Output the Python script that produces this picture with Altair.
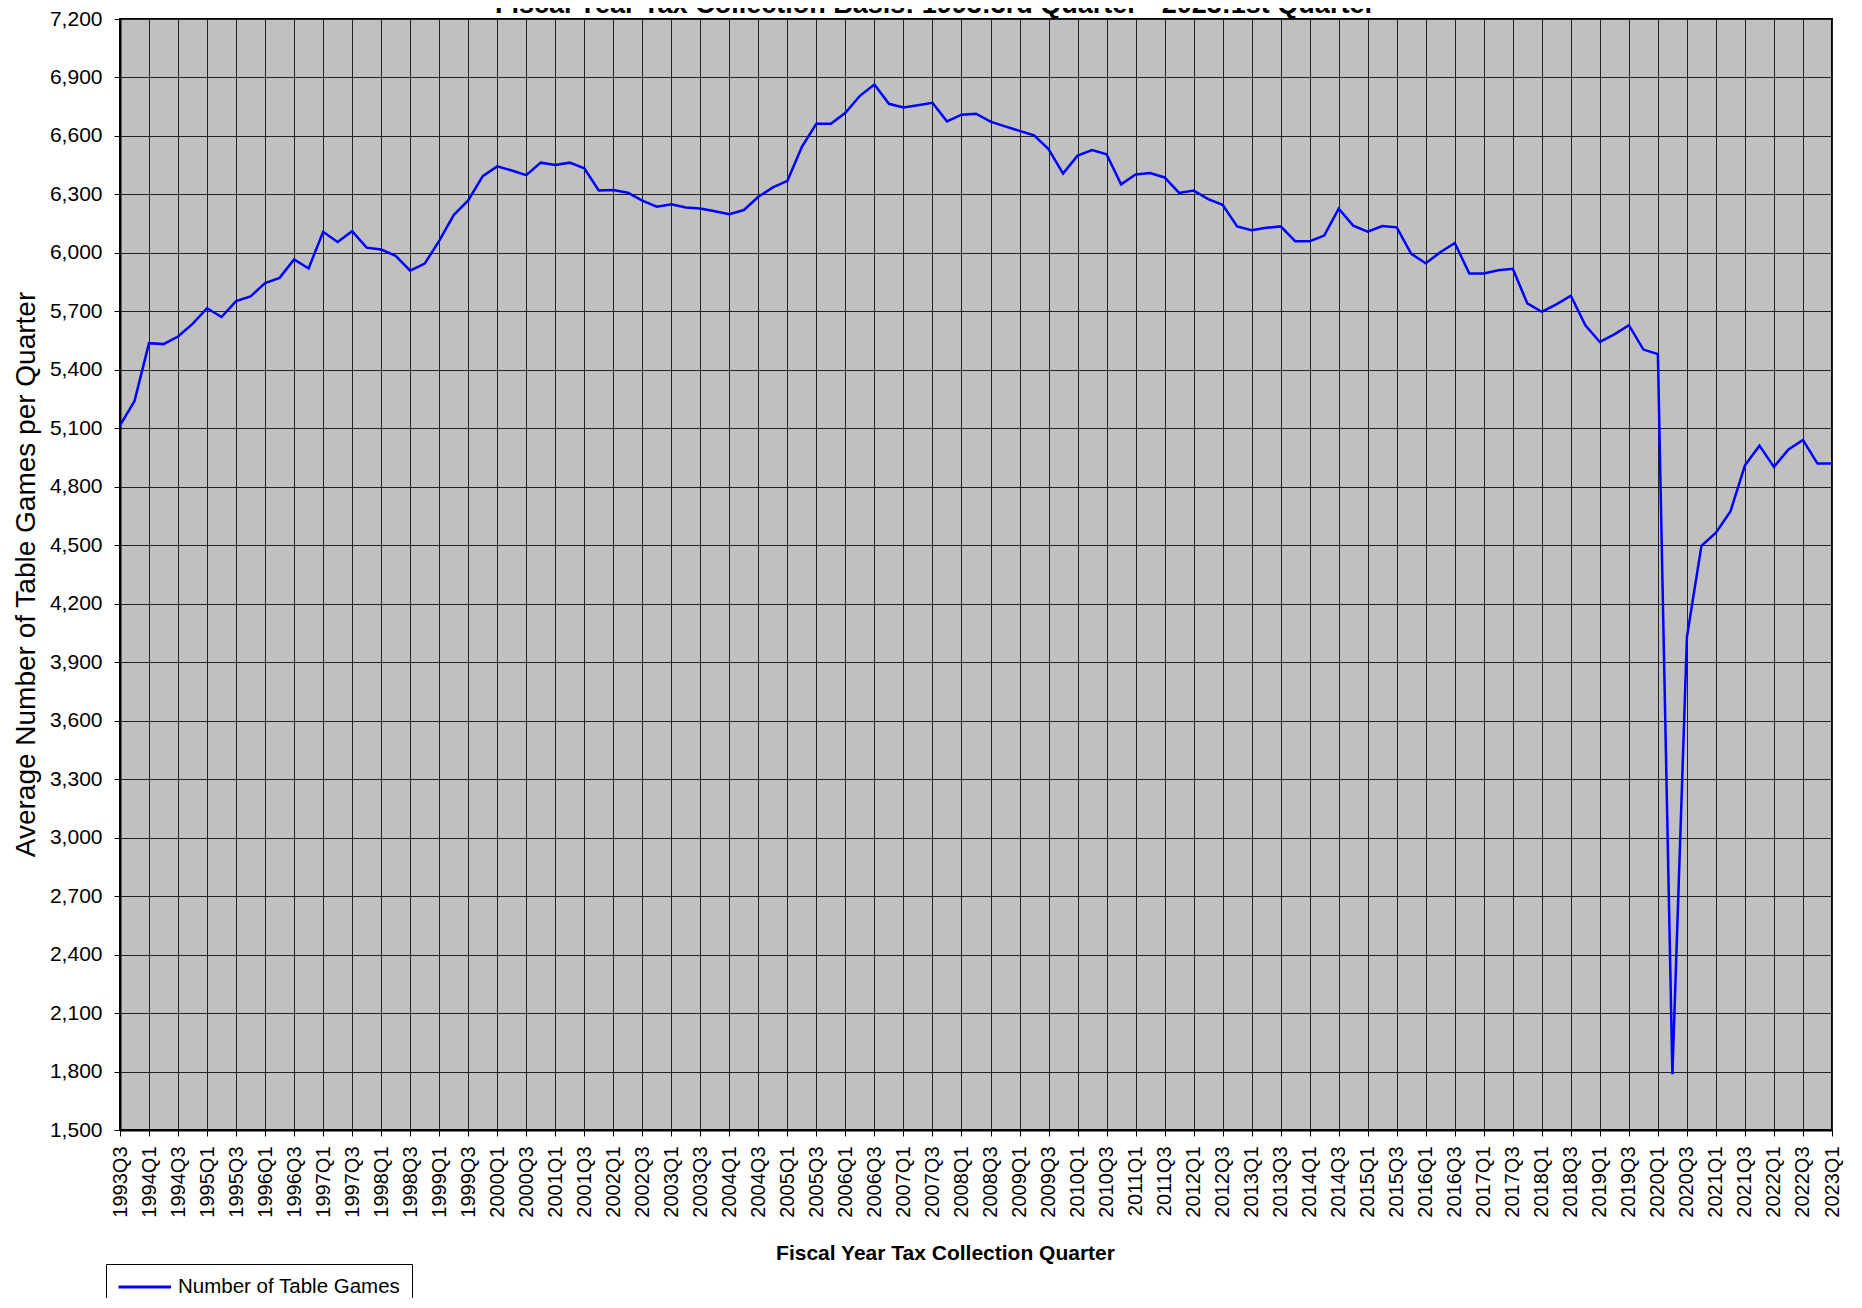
import altair as alt
import pandas as pd

# Quarter labels 1993Q3 ... 2023Q1
quarters = [f"{1993 + (2 + k) // 4}Q{(2 + k) % 4 + 1}" for k in range(119)]
tick_labels = quarters[::2]

games = [
    5115, 5240, 5537, 5532, 5571, 5636, 5716, 5671, 5753, 5777,
    5845, 5872, 5966, 5920, 6108, 6056, 6111, 6027, 6017, 5985,
    5909, 5945, 6062, 6194, 6269, 6394, 6444, 6423, 6399, 6463,
    6451, 6463, 6434, 6320, 6323, 6309, 6268, 6237, 6249, 6233,
    6228, 6214, 6198, 6220, 6288, 6336, 6370, 6544, 6663, 6663,
    6719, 6806, 6864, 6765, 6746, 6758, 6770, 6675, 6709, 6714,
    6673, 6649, 6626, 6603, 6533, 6407, 6499, 6528, 6506, 6352,
    6402, 6410, 6387, 6308, 6320, 6276, 6247, 6136, 6116, 6129,
    6136, 6060, 6060, 6089, 6227, 6140, 6109, 6138, 6131, 5995,
    5947, 6003, 6051, 5894, 5894, 5911, 5918, 5741, 5698, 5736,
    5780, 5629, 5543, 5582, 5629, 5504, 5481, 1786, 4029, 4497,
    4564, 4674, 4910, 5011, 4902, 4992, 5040, 4919, 4919,
]
series_name = "Number of Table Games"
y_ticks = list(range(1500, 7201, 300))
chart_title = "Fiscal Year Tax Collection Basis: 1993:3rd Quarter - 2023:1st Quarter"

df = pd.DataFrame({"quarter": quarters, "games": games, "series": series_name})
title_df = pd.DataFrame({"label": [chart_title]})

FONT = "Liberation Sans"

line = alt.Chart(df).mark_line(strokeWidth=2.5).encode(
    x=alt.X(
        "quarter:O",
        sort=None,
        scale=alt.Scale(type="point", padding=0, domain=quarters),
        axis=alt.Axis(
            values=tick_labels,
            labelAngle=270,
            labelFontSize=20,
            labelPadding=10,
            labelOverlap=False,
            labelColor="black",
            tickSize=6,
            tickColor="black",
            tickWidth=1,
            grid=True,
            gridColor="#222222",
            gridWidth=1,
            domainColor="black",
            domainWidth=2,
            title="Fiscal Year Tax Collection Quarter",
            titleFontSize=21,
            titleFontWeight="bold",
            titleColor="black",
            titleX=825,
            titleY=129,
            titleBaseline="alphabetic",
        ),
    ),
    y=alt.Y(
        "games:Q",
        scale=alt.Scale(domain=[1500, 7200], nice=False, zero=False),
        axis=alt.Axis(
            values=y_ticks,
            format=",.0f",
            labelFontSize=21,
            labelPadding=12,
            labelColor="black",
            tickSize=6,
            tickColor="black",
            grid=True,
            gridColor="#222222",
            gridWidth=1,
            domainColor="black",
            domainWidth=2,
            title="Average Number of Table Games per Quarter",
            titleFontSize=28,
            titleFontWeight="normal",
            titleColor="black",
            titleX=-94,
            titleY=555,
            titleBaseline="middle",
        ),
    ),
    color=alt.Color(
        "series:N",
        scale=alt.Scale(domain=[series_name], range=["#0000FF"]),
        legend=alt.Legend(
            title=None,
            orient="none",
            legendX=-14,
            legendY=1245,
            symbolType="M-1,0H4",
            symbolSize=441,
            symbolStrokeWidth=3,
            labelFontSize=20.5,
            labelColor="black",
            labelOffset=37,
            labelLimit=0,
            strokeColor="black",
            fillColor="white",
            padding=11,
        ),
    ),
)

title_text = alt.Chart(title_df).mark_text(
    fontSize=27,
    fontWeight="bold",
    color="black",
    align="left",
    baseline="alphabetic",
).encode(
    text="label:N",
    x=alt.value(375),
    y=alt.value(-6),
)

chart = alt.layer(line, title_text).properties(
    width=1712,
    height=1111,
    autosize=alt.AutoSizeParams(type="none"),
    padding={"left": 112, "top": 11, "right": 20, "bottom": 168},
    background="white",
).configure(
    font=FONT
).configure_view(
    fill="#C0C0C0",
    stroke="black",
    strokeWidth=2,
)

chart.save("out.html", embed_options={"renderer": "svg", "actions": False})
